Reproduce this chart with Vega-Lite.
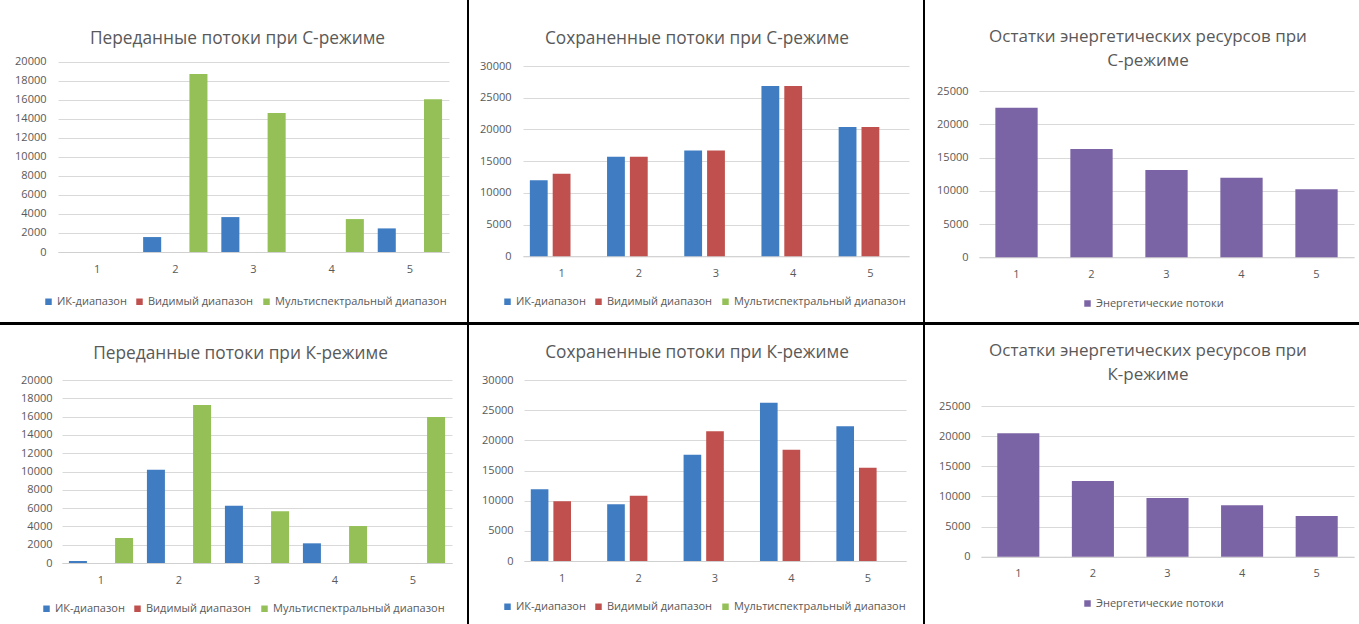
{
  "$schema": "https://vega.github.io/schema/vega-lite/v6.json",
  "background": "black",
  "padding": 0,
  "columns": 3,
  "spacing": {"row": 3, "column": 2},
  "align": "each",
  "bounds": "flush",
  "resolve": {
    "scale": {"color": "independent", "x": "independent", "y": "independent", "xOffset": "independent"},
    "legend": {"color": "independent"}
  },
  "datasets": {
    "p1": [
      {"n": "1", "s": "ИК-диапазон", "v": 0}, {"n": "1", "s": "Видимый диапазон", "v": 0}, {"n": "1", "s": "Мультиспектральный диапазон", "v": 0},
      {"n": "2", "s": "ИК-диапазон", "v": 1570}, {"n": "2", "s": "Видимый диапазон", "v": 0}, {"n": "2", "s": "Мультиспектральный диапазон", "v": 18700},
      {"n": "3", "s": "ИК-диапазон", "v": 3670}, {"n": "3", "s": "Видимый диапазон", "v": 0}, {"n": "3", "s": "Мультиспектральный диапазон", "v": 14600},
      {"n": "4", "s": "ИК-диапазон", "v": 0}, {"n": "4", "s": "Видимый диапазон", "v": 0}, {"n": "4", "s": "Мультиспектральный диапазон", "v": 3460},
      {"n": "5", "s": "ИК-диапазон", "v": 2480}, {"n": "5", "s": "Видимый диапазон", "v": 0}, {"n": "5", "s": "Мультиспектральный диапазон", "v": 16050}
    ],
    "p2": [
      {"n": "1", "s": "ИК-диапазон", "v": 11980}, {"n": "1", "s": "Видимый диапазон", "v": 13030}, {"n": "1", "s": "Мультиспектральный диапазон", "v": 0},
      {"n": "2", "s": "ИК-диапазон", "v": 15710}, {"n": "2", "s": "Видимый диапазон", "v": 15710}, {"n": "2", "s": "Мультиспектральный диапазон", "v": 0},
      {"n": "3", "s": "ИК-диапазон", "v": 16660}, {"n": "3", "s": "Видимый диапазон", "v": 16660}, {"n": "3", "s": "Мультиспектральный диапазон", "v": 0},
      {"n": "4", "s": "ИК-диапазон", "v": 26850}, {"n": "4", "s": "Видимый диапазон", "v": 26850}, {"n": "4", "s": "Мультиспектральный диапазон", "v": 0},
      {"n": "5", "s": "ИК-диапазон", "v": 20390}, {"n": "5", "s": "Видимый диапазон", "v": 20390}, {"n": "5", "s": "Мультиспектральный диапазон", "v": 0}
    ],
    "p3": [
      {"n": "1", "s": "Энергетические потоки", "v": 22500},
      {"n": "2", "s": "Энергетические потоки", "v": 16280},
      {"n": "3", "s": "Энергетические потоки", "v": 13130},
      {"n": "4", "s": "Энергетические потоки", "v": 11970},
      {"n": "5", "s": "Энергетические потоки", "v": 10220}
    ],
    "p4": [
      {"n": "1", "s": "ИК-диапазон", "v": 220}, {"n": "1", "s": "Видимый диапазон", "v": 0}, {"n": "1", "s": "Мультиспектральный диапазон", "v": 2730},
      {"n": "2", "s": "ИК-диапазон", "v": 10200}, {"n": "2", "s": "Видимый диапазон", "v": 0}, {"n": "2", "s": "Мультиспектральный диапазон", "v": 17270},
      {"n": "3", "s": "ИК-диапазон", "v": 6270}, {"n": "3", "s": "Видимый диапазон", "v": 0}, {"n": "3", "s": "Мультиспектральный диапазон", "v": 5650},
      {"n": "4", "s": "ИК-диапазон", "v": 2150}, {"n": "4", "s": "Видимый диапазон", "v": 0}, {"n": "4", "s": "Мультиспектральный диапазон", "v": 4040},
      {"n": "5", "s": "ИК-диапазон", "v": 0}, {"n": "5", "s": "Видимый диапазон", "v": 0}, {"n": "5", "s": "Мультиспектральный диапазон", "v": 15960}
    ],
    "p5": [
      {"n": "1", "s": "ИК-диапазон", "v": 11880}, {"n": "1", "s": "Видимый диапазон", "v": 9890}, {"n": "1", "s": "Мультиспектральный диапазон", "v": 0},
      {"n": "2", "s": "ИК-диапазон", "v": 9390}, {"n": "2", "s": "Видимый диапазон", "v": 10830}, {"n": "2", "s": "Мультиспектральный диапазон", "v": 0},
      {"n": "3", "s": "ИК-диапазон", "v": 17620}, {"n": "3", "s": "Видимый диапазон", "v": 21490}, {"n": "3", "s": "Мультиспектральный диапазон", "v": 0},
      {"n": "4", "s": "ИК-диапазон", "v": 26240}, {"n": "4", "s": "Видимый диапазон", "v": 18450}, {"n": "4", "s": "Мультиспектральный диапазон", "v": 0},
      {"n": "5", "s": "ИК-диапазон", "v": 22320}, {"n": "5", "s": "Видимый диапазон", "v": 15470}, {"n": "5", "s": "Мультиспектральный диапазон", "v": 0}
    ],
    "p6": [
      {"n": "1", "s": "Энергетические потоки", "v": 20460},
      {"n": "2", "s": "Энергетические потоки", "v": 12560},
      {"n": "3", "s": "Энергетические потоки", "v": 9730},
      {"n": "4", "s": "Энергетические потоки", "v": 8520},
      {"n": "5", "s": "Энергетические потоки", "v": 6750}
    ]
  },
  "concat": [
    {
      "width": 467, "height": 322,
      "view": {"fill": "white", "stroke": null},
      "title": {"text": "Переданные потоки при С-режиме", "offset": -47, "dx": 4, "fontSize": 17.3},
      "data": {"name": "p1"},
      "mark": {"type": "bar"},
      "encoding": {
        "x": {"field": "n", "type": "nominal", "title": null, "scale": {"range": [58, 449], "paddingInner": 0, "paddingOuter": 0}, "axis": {"offset": -70}},
        "xOffset": {"field": "s", "type": "nominal", "sort": ["ИК-диапазон", "Видимый диапазон", "Мультиспектральный диапазон"], "scale": {"paddingInner": 0.22, "paddingOuter": 0.3}},
        "y": {"field": "v", "type": "quantitative", "title": null, "scale": {"domain": [0, 20000], "range": [252, 61.7], "nice": false}, "axis": {"offset": -58, "values": [0, 2000, 4000, 6000, 8000, 10000, 12000, 14000, 16000, 18000, 20000], "format": "d"}},
        "color": {"field": "s", "type": "nominal", "title": null, "scale": {"domain": ["ИК-диапазон", "Видимый диапазон", "Мультиспектральный диапазон"], "range": ["#3f7cc2", "#c0504d", "#94c057"]}, "legend": {"orient": "none", "legendX": 43, "legendY": 296, "direction": "horizontal"}}
      }
    },
    {
      "width": 454, "height": 322,
      "view": {"fill": "white", "stroke": null},
      "title": {"text": "Сохраненные  потоки при С-режиме", "offset": -47, "dx": 1, "fontSize": 17.3},
      "data": {"name": "p2"},
      "mark": {"type": "bar"},
      "encoding": {
        "x": {"field": "n", "type": "nominal", "title": null, "scale": {"range": [54, 440], "paddingInner": 0, "paddingOuter": 0}, "axis": {"offset": -65.7}},
        "xOffset": {"field": "s", "type": "nominal", "sort": ["ИК-диапазон", "Видимый диапазон", "Мультиспектральный диапазон"], "scale": {"paddingInner": 0.22, "paddingOuter": 0.3}},
        "y": {"field": "v", "type": "quantitative", "title": null, "scale": {"domain": [0, 30000], "range": [256.3, 66], "nice": false}, "axis": {"offset": -54, "values": [0, 5000, 10000, 15000, 20000, 25000, 30000], "format": "d"}},
        "color": {"field": "s", "type": "nominal", "title": null, "scale": {"domain": ["ИК-диапазон", "Видимый диапазон", "Мультиспектральный диапазон"], "range": ["#3f7cc2", "#c0504d", "#94c057"]}, "legend": {"orient": "none", "legendX": 33, "legendY": 296, "direction": "horizontal"}}
      }
    },
    {
      "width": 434, "height": 322,
      "view": {"fill": "white", "stroke": null},
      "title": {"text": ["Остатки энергетических ресурсов при", "С-режиме"], "offset": -70, "lineHeight": 24, "dx": 6},
      "data": {"name": "p3"},
      "mark": {"type": "bar"},
      "encoding": {
        "x": {"field": "n", "type": "nominal", "title": null, "scale": {"range": [54, 429], "paddingInner": 0.436, "paddingOuter": 0.218}, "axis": {"offset": -64.7}},
        "y": {"field": "v", "type": "quantitative", "title": null, "scale": {"domain": [0, 25000], "range": [257.3, 91], "nice": false}, "axis": {"offset": -55, "values": [0, 5000, 10000, 15000, 20000, 25000], "format": "d"}},
        "color": {"field": "s", "type": "nominal", "title": null, "scale": {"range": ["#7b64a5"]}, "legend": {"orient": "none", "legendX": 157, "legendY": 298, "direction": "horizontal"}}
      }
    },
    {
      "width": 467, "height": 299,
      "view": {"fill": "white", "stroke": null},
      "title": {"text": "Переданные потоки при К-режиме", "offset": -37, "dx": 7, "fontSize": 17.3},
      "data": {"name": "p4"},
      "mark": {"type": "bar"},
      "encoding": {
        "x": {"field": "n", "type": "nominal", "title": null, "scale": {"range": [62, 452], "paddingInner": 0, "paddingOuter": 0}, "axis": {"offset": -61}},
        "xOffset": {"field": "s", "type": "nominal", "sort": ["ИК-диапазон", "Видимый диапазон", "Мультиспектральный диапазон"], "scale": {"paddingInner": 0.22, "paddingOuter": 0.3}},
        "y": {"field": "v", "type": "quantitative", "title": null, "scale": {"domain": [0, 20000], "range": [238, 55], "nice": false}, "axis": {"offset": -62, "labelPadding": 10, "values": [0, 2000, 4000, 6000, 8000, 10000, 12000, 14000, 16000, 18000, 20000], "format": "d"}},
        "color": {"field": "s", "type": "nominal", "title": null, "scale": {"domain": ["ИК-диапазон", "Видимый диапазон", "Мультиспектральный диапазон"], "range": ["#3f7cc2", "#c0504d", "#94c057"]}, "legend": {"orient": "none", "legendX": 41, "legendY": 278, "direction": "horizontal"}}
      }
    },
    {
      "width": 454, "height": 299,
      "view": {"fill": "white", "stroke": null},
      "title": {"text": "Сохраненные потоки при К-режиме", "offset": -36, "dx": 1, "fontSize": 17.3},
      "data": {"name": "p5"},
      "mark": {"type": "bar"},
      "encoding": {
        "x": {"field": "n", "type": "nominal", "title": null, "scale": {"range": [55, 437], "paddingInner": 0, "paddingOuter": 0}, "axis": {"offset": -63}},
        "xOffset": {"field": "s", "type": "nominal", "sort": ["ИК-диапазон", "Видимый диапазон", "Мультиспектральный диапазон"], "scale": {"paddingInner": 0.22, "paddingOuter": 0.3}},
        "y": {"field": "v", "type": "quantitative", "title": null, "scale": {"domain": [0, 30000], "range": [236, 55], "nice": false}, "axis": {"offset": -55, "labelPadding": 11, "values": [0, 5000, 10000, 15000, 20000, 25000, 30000], "format": "d"}},
        "color": {"field": "s", "type": "nominal", "title": null, "scale": {"domain": ["ИК-диапазон", "Видимый диапазон", "Мультиспектральный диапазон"], "range": ["#3f7cc2", "#c0504d", "#94c057"]}, "legend": {"orient": "none", "legendX": 33, "legendY": 276, "direction": "horizontal"}}
      }
    },
    {
      "width": 434, "height": 299,
      "view": {"fill": "white", "stroke": null},
      "title": {"text": ["Остатки энергетических ресурсов при", "К-режиме"], "offset": -59, "lineHeight": 24, "dx": 6},
      "data": {"name": "p6"},
      "mark": {"type": "bar"},
      "encoding": {
        "x": {"field": "n", "type": "nominal", "title": null, "scale": {"range": [56, 429], "paddingInner": 0.436, "paddingOuter": 0.218}, "axis": {"offset": -67.3}},
        "y": {"field": "v", "type": "quantitative", "title": null, "scale": {"domain": [0, 25000], "range": [231.7, 81], "nice": false}, "axis": {"offset": -56, "labelPadding": 11, "values": [0, 5000, 10000, 15000, 20000, 25000], "format": "d"}},
        "color": {"field": "s", "type": "nominal", "title": null, "scale": {"range": ["#7b64a5"]}, "legend": {"orient": "none", "legendX": 157, "legendY": 273, "direction": "horizontal"}}
      }
    }
  ],
  "config": {
    "view": {"stroke": null},
    "axis": {"labelFont": "Open Sans", "labelFontSize": 11, "labelColor": "#595959", "ticks": false, "gridColor": "#d9d9d9", "domainColor": "#d0d0d0"},
    "axisX": {"grid": false, "labelAngle": 0, "labelPadding": 11},
    "axisY": {"domain": false, "grid": true, "labelPadding": 12},
    "legend": {"labelFont": "Open Sans", "labelFontSize": 11, "labelColor": "#595959", "labelLimit": 0, "symbolType": "square", "symbolSize": 42, "labelOffset": 3, "columnPadding": 7},
    "title": {"font": "Open Sans", "fontSize": 17, "fontWeight": "normal", "color": "#595959", "anchor": "middle", "frame": "group"}
  }
}
